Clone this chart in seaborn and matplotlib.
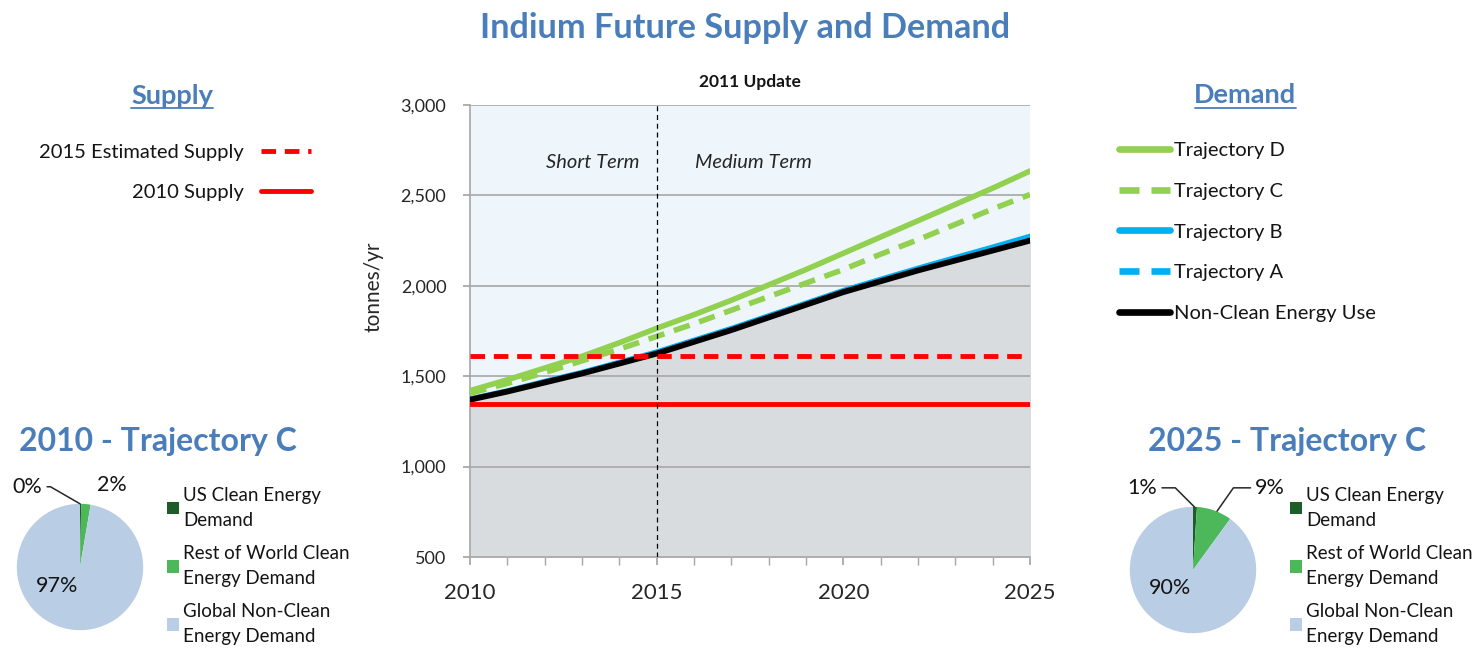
import matplotlib
matplotlib.use('Agg')
import matplotlib.pyplot as plt
import seaborn as sns
import pandas as pd
from matplotlib.lines import Line2D
from matplotlib.ticker import FuncFormatter, MultipleLocator

# data
years = list(range(2010, 2026))
non_clean = [1370, 1415, 1465, 1515, 1570, 1625, 1690, 1755, 1825, 1895, 1965, 2025, 2085, 2140, 2195, 2250]
traj_a = [1373, 1418, 1470, 1520, 1576, 1632, 1697, 1762, 1832, 1902, 1972, 2034, 2095, 2153, 2211, 2270]
traj_b = [1375, 1420, 1472, 1522, 1578, 1635, 1700, 1765, 1835, 1905, 1975, 2037, 2098, 2157, 2215, 2275]
traj_c = [1405, 1460, 1520, 1585, 1650, 1720, 1790, 1865, 1940, 2015, 2090, 2175, 2255, 2340, 2425, 2505]
traj_d = [1420, 1480, 1545, 1610, 1685, 1765, 1840, 1920, 2005, 2090, 2180, 2270, 2360, 2450, 2540, 2635]
supply_2010 = 1345
supply_2015_est = 1610

pie_labels = ['US Clean Energy\nDemand', 'Rest of World Clean\nEnergy Demand', 'Global Non-Clean\nEnergy Demand']
pie_2010 = [0.3, 2.4, 97.3]
pie_2025 = [1.0, 9.0, 90.0]
pie_text_2010 = ['0%', '2%', '97%']
pie_text_2025 = ['1%', '9%', '90%']

BLUE_T = '#4A7EBB'
GREEN = '#92D050'
CYAN = '#00B0F0'
RED = '#FF0000'
DASH = (0, (3, 1.8))
pie_colors = ['#1E5C2C', '#4CB85A', '#B9CDE5']

sns.set_theme(style='white')
plt.rcParams['font.family'] = ['Lato', 'DejaVu Sans']
plt.rcParams['text.color'] = '#141414'

W, H = 1476, 653
fig = plt.figure(figsize=(W / 100, H / 100), dpi=100)

def fx(px):
    return px / W

def fy(py):
    return 1 - py / H

# ---- main line chart ----
ax = fig.add_axes([fx(470), fy(557), fx(1030) - fx(470), fy(105) - fy(557)])
ax.set_facecolor('#EEF6FC')
ax.fill_between(years, 500, non_clean, color='#D9DCDF', zorder=1)
for yv in [1000, 1500, 2000, 2500, 3000]:
    ax.axhline(yv, color='#A6A6A6', lw=1.2, zorder=1.5)

df = pd.DataFrame({'year': years, 'D': traj_d, 'C': traj_c, 'B': traj_b, 'A': traj_a, 'N': non_clean})
sns.lineplot(data=df, x='year', y='A', ax=ax, color=CYAN, lw=3.5, linestyle=DASH, zorder=3)
sns.lineplot(data=df, x='year', y='B', ax=ax, color=CYAN, lw=3.5, zorder=3)
sns.lineplot(data=df, x='year', y='N', ax=ax, color='black', lw=4.2, zorder=4)
sns.lineplot(data=df, x='year', y='C', ax=ax, color=GREEN, lw=4, linestyle=DASH, zorder=5)
sns.lineplot(data=df, x='year', y='D', ax=ax, color=GREEN, lw=4, zorder=5)
h_est = ax.axhline(supply_2015_est, color=RED, lw=3.5, linestyle=DASH, zorder=6)
h_sup = ax.axhline(supply_2010, color=RED, lw=3.5, zorder=6)
ax.axvline(2015, color='black', lw=0.9, linestyle=(0, (4, 3)), zorder=7)

ax.set_xlim(2010, 2025)
ax.set_ylim(500, 3000)
ax.set_xticks([2010, 2015, 2020, 2025])
ax.xaxis.set_minor_locator(MultipleLocator(1))
ax.set_yticks([500, 1000, 1500, 2000, 2500, 3000])
ax.yaxis.set_major_formatter(FuncFormatter(lambda v, p: f'{int(v):,}'))
ax.tick_params(axis='x', which='both', direction='out', bottom=True, length=6, color='#A6A6A6', labelsize=16, pad=13)
ax.tick_params(axis='y', left=True, direction='out', length=5, color='#A6A6A6', labelsize=13, pad=12)
for s in ['top', 'right']:
    ax.spines[s].set_visible(False)
for s in ['left', 'bottom']:
    ax.spines[s].set_color('#A6A6A6')
    ax.spines[s].set_linewidth(1.2)
ax.set_xlabel('')
ax.set_ylabel('tonnes/yr', fontsize=15)
ax.yaxis.set_label_coords(-0.155, 0.597)
ax.set_title('2011 Update', fontsize=12.5, fontweight='bold', pad=13)
ax.text(2013.3, 2680, 'Short Term', fontsize=14.5, style='italic', ha='center', va='center', color='#262626')
ax.text(2017.6, 2680, 'Medium Term', fontsize=14.5, style='italic', ha='center', va='center', color='#262626')

fig.text(fx(745), fy(28), 'Indium Future Supply and Demand', fontsize=24.7, fontweight='bold',
         color=BLUE_T, ha='center', va='center')

# ---- supply legend ----
fig.text(fx(172), fy(96), 'Supply', fontsize=19.5, fontweight='bold', color=BLUE_T, ha='center', va='center')
fig.add_artist(Line2D([fx(131), fx(213)], [fy(108), fy(108)], color=BLUE_T, lw=1.3))
leg1 = fig.legend([h_est, h_sup], ['2015 Estimated Supply', '2010 Supply'], loc='upper right',
                  bbox_to_anchor=(fx(329), fy(126)), frameon=False, markerfirst=False,
                  fontsize=14.5, handlelength=2.5, handletextpad=0.85, labelspacing=1.15)

# ---- demand legend ----
fig.text(fx(1245), fy(95), 'Demand', fontsize=19.5, fontweight='bold', color=BLUE_T, ha='center', va='center')
fig.add_artist(Line2D([fx(1195), fx(1296)], [fy(108), fy(108)], color=BLUE_T, lw=1.3))
dem_handles = [Line2D([], [], color=GREEN, lw=4.8),
               Line2D([], [], color=GREEN, lw=4.8, linestyle=DASH),
               Line2D([], [], color=CYAN, lw=4.8),
               Line2D([], [], color=CYAN, lw=4.8, linestyle=DASH),
               Line2D([], [], color='black', lw=4.8)]
fig.legend(dem_handles, ['Trajectory D', 'Trajectory C', 'Trajectory B', 'Trajectory A', 'Non-Clean Energy Use'],
           loc='upper left', bbox_to_anchor=(fx(1101), fy(124)), frameon=False,
           fontsize=14.5, handlelength=2.55, handletextpad=0.15, labelspacing=1.17)

# ---- pies ----
def draw_pie(cx, cy, vals, texts, title, tx, label_pos, leg_x):
    pax = fig.add_axes([fx(cx - 79), fy(cy + 79), 158 / W, 158 / H])
    wedges, _ = pax.pie(vals, colors=pie_colors, startangle=90, counterclock=False,
                        wedgeprops=dict(linewidth=0))
    pax.set_aspect('equal')
    for (txt, (x, y, xy, angb, rel)) in zip(texts, label_pos):
        if xy is None:
            pax.text(x, y, txt, fontsize=15.5, ha='center', va='center')
        else:
            pax.annotate(txt, xy=xy, xytext=(x, y), fontsize=15.5, ha='center', va='center',
                         arrowprops=dict(arrowstyle='-', color='#262626', lw=1.1, relpos=rel,
                                         connectionstyle=f'angle,angleA=0,angleB={angb},rad=0',
                                         shrinkA=1, shrinkB=0))
    fig.text(fx(tx), fy(442), title, fontsize=23, fontweight='bold', color=BLUE_T, ha='center', va='center')
    lg = fig.legend(wedges, pie_labels, loc='upper left', bbox_to_anchor=(fx(leg_x), fy(470)),
                    frameon=False, fontsize=13.5, handlelength=0.65, handleheight=0.65,
                    handletextpad=0.22, labelspacing=0.88)
    for t in lg.get_texts():
        t.set_linespacing(1.55)
    return pax

draw_pie(80, 567, pie_2010, pie_text_2010, '2010 - Trajectory C', 158,
         [(-0.83, 1.27, (0.0, 1.0), 150, (1, 0.5)), (0.5, 1.29, None, 0, None), (-0.36, -0.3, None, 0, None)], 150)
draw_pie(1193, 570, pie_2025, pie_text_2025, '2025 - Trajectory C', 1287,
         [(-0.8, 1.3, (0.02, 1.0), 135, (1, 0.5)), (1.22, 1.3, (0.38, 0.93), 55, (0, 0.5)),
          (-0.36, -0.28, None, 0, None)], 1273)

fig.savefig('out.png', dpi=100)
